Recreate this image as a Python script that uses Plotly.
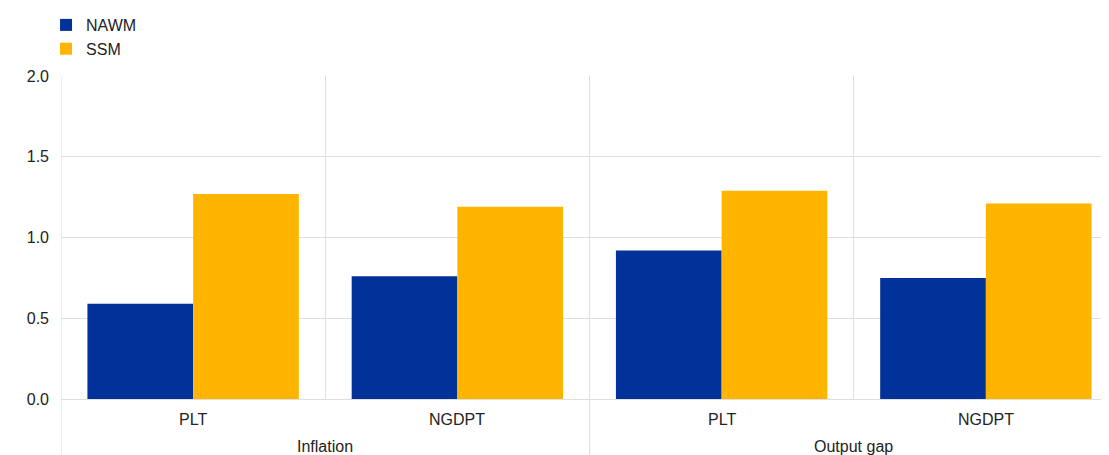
import plotly.graph_objects as go

groups = ["Inflation", "Inflation", "Output gap", "Output gap"]
rules = ["PLT", "NGDPT", "PLT", "NGDPT"]
nawm = [0.59, 0.76, 0.92, 0.75]
ssm = [1.27, 1.19, 1.29, 1.21]
yticks = [0.0, 0.5, 1.0, 1.5, 2.0]

FONT = "Liberation Sans, Arial, Helvetica, sans-serif"
TXT = "#222222"
GRID = "#dedede"

fig = go.Figure()
fig.add_trace(go.Bar(x=[groups, rules], y=nawm, name="NAWM",
                     marker=dict(color="#003299", line=dict(width=0))))
fig.add_trace(go.Bar(x=[groups, rules], y=ssm, name="SSM",
                     marker=dict(color="#FFB400", line=dict(width=0))))

# category labels (first level) placed on the x axis scale
for i, r in enumerate(rules):
    fig.add_annotation(x=i, xref="x", y=0, yref="paper", text=r, showarrow=False,
                       yanchor="middle", yshift=-20, font=dict(size=16, color=TXT))

# group labels and group dividers
seen = []
for g in groups:
    if g not in seen:
        seen.append(g)
for g in seen:
    idx = [i for i, gg in enumerate(groups) if gg == g]
    fig.add_annotation(x=sum(idx) / len(idx), xref="x", y=0, yref="paper", text=g,
                       showarrow=False, yanchor="middle", yshift=-47,
                       font=dict(size=16, color=TXT))
    fig.add_shape(type="line", xref="x", yref="paper", x0=idx[0] - 0.5, x1=idx[0] - 0.5,
                  y0=1, y1=-0.3, line=dict(color=GRID, width=1), layer="below")

# page body adds an 8px offset; compensate in margins
L, T = 53, 68
plot_w = 1109 - L
cat_w = 264.25
fig.update_layout(
    width=1109, height=455,
    margin=dict(l=L, r=0, t=T, b=455 - (T + 323), autoexpand=False),
    paper_bgcolor="white", plot_bgcolor="white",
    font=dict(family=FONT, size=16, color=TXT),
    barmode="group", bargap=0.2, bargroupgap=0,
    showlegend=True,
    legend=dict(x=0.0343, xref="container", y=1.0055, yref="container",
                xanchor="left", yanchor="top", orientation="v",
                font=dict(size=16), tracegroupgap=0, itemwidth=30),
    xaxis=dict(type="multicategory", range=[-0.5, -0.5 + plot_w / cat_w],
               automargin=False, showticklabels=False,
               showgrid=True, gridcolor=GRID, gridwidth=1,
               tickson="boundaries", ticks="",
               showdividers=False, showline=False, zeroline=False),
    yaxis=dict(range=[0, 2.0], tickvals=yticks, ticktext=[f"{v:.1f}" for v in yticks],
               automargin=False,
               showgrid=True, gridcolor=GRID, gridwidth=1,
               zeroline=True, zerolinecolor=GRID, zerolinewidth=1,
               showline=False,
               ticks="", ticklabelstandoff=11),
)
fig.write_html("out.html")
